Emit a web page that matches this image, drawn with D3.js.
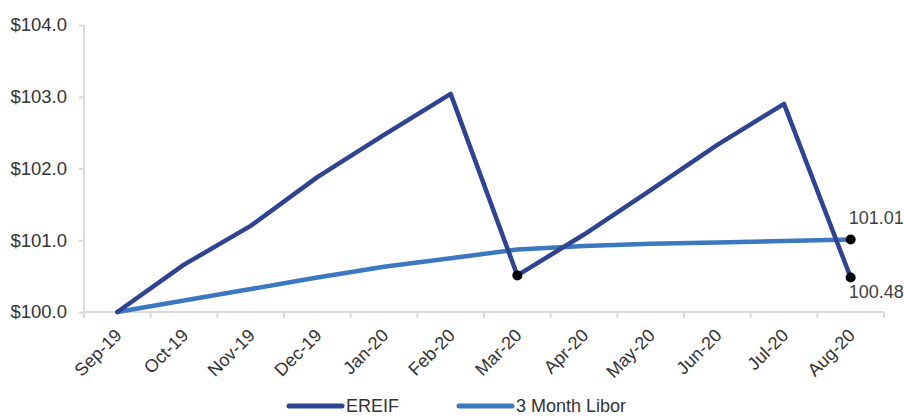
<!DOCTYPE html>
<html><head><meta charset="utf-8">
<script src="https://cdn.jsdelivr.net/npm/d3@7"></script>
<style>body{margin:0;background:#fff}svg{display:block}text{font-family:"Liberation Sans",Arial,sans-serif}</style>
</head><body><svg id="c" width="904" height="416"></svg>
<script>
const months = ["Sep-19","Oct-19","Nov-19","Dec-19","Jan-20","Feb-20","Mar-20","Apr-20","May-20","Jun-20","Jul-20","Aug-20"];
const ereif = [100.00,100.66,101.20,101.88,102.47,103.04,100.51,101.08,101.70,102.33,102.90,100.48];
const libor = [100.00,100.16,100.32,100.48,100.63,100.75,100.87,100.92,100.95,100.97,100.99,101.01];
const yTicks = [100,101,102,103,104];
const seriesNames = ["EREIF","3 Month Libor"];
const colors = ["#2E4391","#3B78BF"];

const svg = d3.select("#c");
const x = d3.scaleBand().domain(months).range([84,884]);
const y = d3.scaleLinear().domain([100,104]).range([312,25]);
const cx = d => x(d) + x.bandwidth()/2;

// y axis
const ya = svg.append("g").attr("transform","translate(84,0)")
  .call(d3.axisLeft(y).tickValues(yTicks).tickFormat(d=>"$"+d3.format(".1f")(d)).tickSize(5).tickPadding(12));
ya.select(".domain").attr("stroke","#d9d9d9").attr("stroke-width",2).attr("d","M0,25V312");
ya.selectAll(".tick line").attr("stroke","#d9d9d9").attr("stroke-width",2);
ya.selectAll("text").attr("font-size",18.5).attr("fill","#333");

// x axis
const xa = svg.append("g").attr("transform","translate(0,312)")
  .call(d3.axisBottom(x).tickSize(0).tickFormat(d=>d));
xa.select(".domain").attr("stroke","#d9d9d9").attr("stroke-width",2).attr("d","M84,0H884");
xa.selectAll(".tick text").attr("font-size",18).attr("fill","#333")
  .attr("text-anchor","end").attr("y",0).attr("dy","0.35em")
  .attr("transform","translate(1,20) rotate(-45)");
const bounds = months.map(m=>x(m)).concat([884]);
svg.append("g").selectAll("line").data(bounds).join("line")
  .attr("x1",d=>d).attr("x2",d=>d).attr("y1",312).attr("y2",318)
  .attr("stroke","#d9d9d9").attr("stroke-width",2);

// lines
const line = d3.line().x((d,i)=>cx(months[i])).y(d=>y(d));
[libor, ereif].forEach((s,k)=>{
  svg.append("path").datum(s).attr("d",line).attr("fill","none")
    .attr("stroke", k===0?colors[1]:colors[0]).attr("stroke-width",4.5)
    .attr("stroke-linejoin","round").attr("stroke-linecap","round");
});

// markers
const marks = [{m:"Mar-20",v:ereif[6]},{m:"Aug-20",v:ereif[11]},{m:"Aug-20",v:libor[11]}];
svg.append("g").selectAll("circle").data(marks).join("circle")
  .attr("cx",d=>cx(d.m)).attr("cy",d=>y(d.v)).attr("r",5).attr("fill","#000");

// data labels
svg.append("text").attr("x",cx("Aug-20")-2).attr("y",y(libor[11])-16).attr("font-size",18).attr("fill","#404040").text(d3.format(".2f")(libor[11]));
svg.append("text").attr("x",cx("Aug-20")-2).attr("y",y(ereif[11])+20).attr("font-size",18).attr("fill","#404040").text(d3.format(".2f")(ereif[11]));

// legend
const leg = [{n:seriesNames[0],c:colors[0],x:289},{n:seriesNames[1],c:colors[1],x:459}];
const lg = svg.append("g").selectAll("g").data(leg).join("g");
lg.append("line").attr("x1",d=>d.x).attr("x2",d=>d.x+53).attr("y1",406).attr("y2",406)
  .attr("stroke",d=>d.c).attr("stroke-width",5).attr("stroke-linecap","round");
lg.append("text").attr("x",d=>d.x+57).attr("y",411.5).attr("font-size",18).attr("fill","#333").text(d=>d.n);
</script></body></html>
